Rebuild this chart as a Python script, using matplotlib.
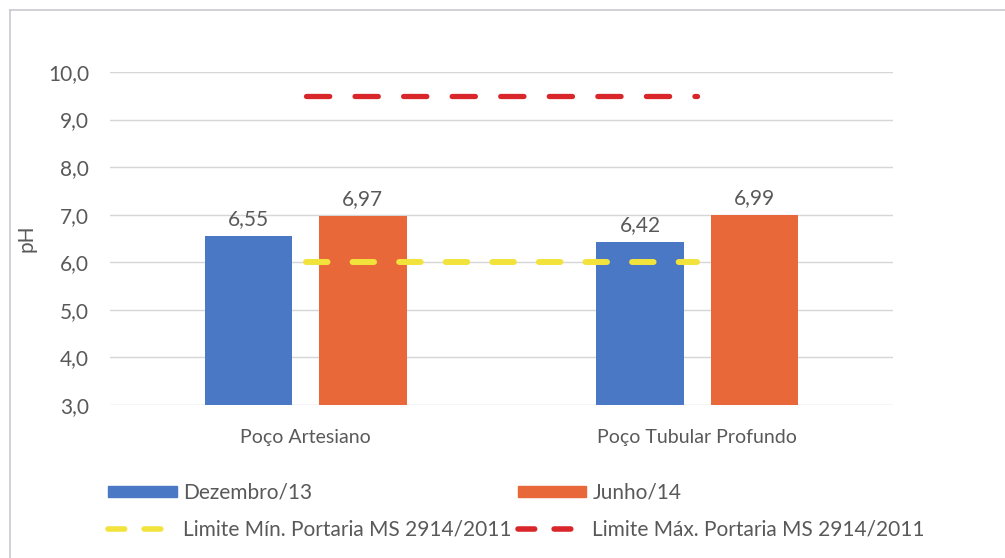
import numpy as np
import matplotlib
matplotlib.use("Agg")
from matplotlib import pyplot as plt
from matplotlib.lines import Line2D
from matplotlib.patches import Patch

plt.rcParams["font.family"] = ["Lato", "DejaVu Sans"]

# data
categories = ["Poço Artesiano", "Poço Tubular Profundo"]
dez13 = [6.55, 6.42]
jun14 = [6.97, 6.99]
lim_min = [6.0, 6.0]
lim_max = [9.5, 9.5]
yticks = [3, 4, 5, 6, 7, 8, 9, 10]

grey = "#595959"
blue = "#4A78C4"
orange = "#E9683A"
yellow = "#F2E33C"
red = "#D9262B"

fig = plt.figure(figsize=(10.05, 5.58), dpi=100)
ax = fig.add_axes([110 / 1005, 1 - 405 / 558, 783 / 1005, 333 / 558])

x = np.arange(len(categories))
w = 0.224
off = 0.146

ax.bar(x - off, np.array(dez13) - 3, w, bottom=3, color=blue, zorder=2)
ax.bar(x + off, np.array(jun14) - 3, w, bottom=3, color=orange, zorder=2)

# data labels
for xs, vals in [(x - off, dez13), (x + off, jun14)]:
    for xi, v in zip(xs, vals):
        ax.annotate(f"{v:.2f}".replace(".", ","), (xi, v), xytext=(0, 5),
                    textcoords="offset points", ha="center", va="bottom",
                    fontsize=15, color=grey)

# limits
ax.plot(x, lim_min, color=yellow, lw=4.3, dashes=(3.6, 4.2),
        dash_capstyle="round", zorder=3)
ax.plot(x, lim_max, color=red, lw=3.8, dashes=(4.4, 4.8),
        dash_capstyle="round", zorder=3)

ax.set_xlim(-0.5, 1.5)
ax.set_ylim(3, 10)
ax.set_yticks(yticks)
ax.set_yticklabels([f"{t:.1f}".replace(".", ",") for t in yticks],
                   fontsize=15, color=grey)
ax.set_xticks(x)
ax.set_xticklabels(categories, fontsize=14, color=grey)
ax.tick_params(axis="y", length=0, pad=15)
ax.tick_params(axis="x", length=0, pad=17)
ax.grid(axis="y", color="#D6D6D6", lw=1, zorder=0)
for s in ax.spines.values():
    s.set_visible(False)
ax.set_ylabel("pH", fontsize=15, color=grey, labelpad=8)

# legend
handles = [
    Patch(color=blue, label="Dezembro/13"),
    Line2D([], [], color=yellow, lw=4, dashes=(3, 3.5), dash_capstyle="round",
           label="Limite Mín. Portaria MS 2914/2011"),
    Patch(color=orange, label="Junho/14"),
    Line2D([], [], color=red, lw=4, dashes=(3, 3.5), dash_capstyle="round",
           label="Limite Máx. Portaria MS 2914/2011"),
]
fig.legend(handles=handles, ncol=2, loc="upper left",
           bbox_to_anchor=(89 / 1005, 1 - 464 / 558),
           frameon=False, fontsize=15, labelcolor=grey, handlelength=3.3,
           handleheight=0.45, handletextpad=0.3, columnspacing=0.3,
           labelspacing=0.8)

# outer frame (left and top only)
fig.add_artist(Line2D([10 / 1005, 10 / 1005], [0, 1 - 10 / 558],
                      transform=fig.transFigure, color="#C8C8D0", lw=1.2))
fig.add_artist(Line2D([10 / 1005, 1], [1 - 10 / 558, 1 - 10 / 558],
                      transform=fig.transFigure, color="#C8C8D0", lw=1.2))

fig.savefig("out.png", dpi=100)
